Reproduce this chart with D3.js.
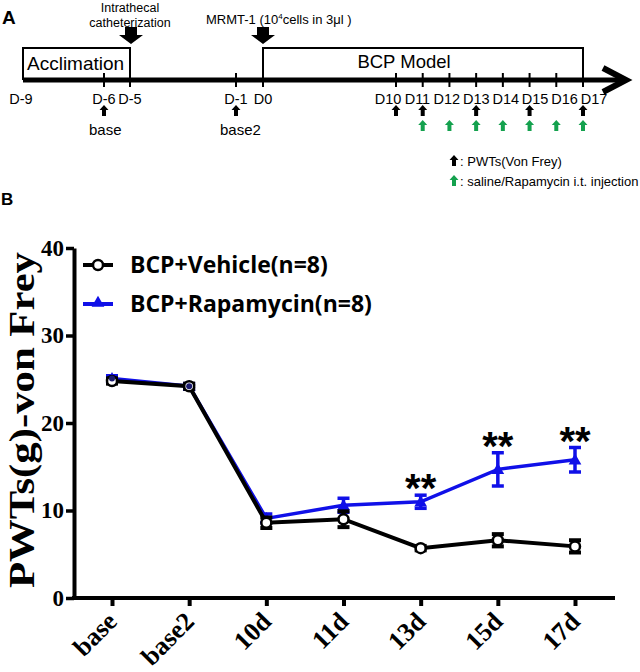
<!DOCTYPE html>
<html>
<head>
<meta charset="utf-8">
<script src="https://cdn.jsdelivr.net/npm/d3@7"></script>
<style>
  body { margin: 0; background: #fff; }
  svg { display: block; }
</style>
</head>
<body>
<div id="chart"></div>
<script>
// panel B data
const categories = ["base", "base2", "10d", "11d", "13d", "15d", "17d"];
const vehicleMean = [24.8, 24.2, 8.6, 9.0, 5.7, 6.6, 5.9];
const vehicleSem = [0.3, 0.3, 0.6, 0.9, 0.25, 0.7, 0.7];
const rapaMean = [25.1, 24.2, 9.1, 10.6, 11.0, 14.7, 15.8];
const rapaSem = [0.3, 0.3, 0.5, 0.8, 0.75, 1.9, 1.4];
const stars = ["", "", "", "", "**", "**", "**"];
const yTicks = [0, 10, 20, 30, 40];
const seriesNames = ["BCP+Vehicle(n=8)", "BCP+Rapamycin(n=8)"];

// panel A timeline
const timelineDays = [-6, -5, -1, 0, 10, 11, 12, 13, 14, 15, 16, 17];
const earlyLabels = [["D-9", -9], ["D-6", -6], ["D-5", -5], ["D-1", -1], ["D0", 0]];
const lateLabels = [10, 11, 12, 13, 14, 15, 16, 17];
const pwtDays = [-6, -1, 10, 11, 13, 15, 17];
const injectDays = [11, 12, 13, 14, 15, 16, 17];

const W = 640, H = 672;
const svg = d3.select("#chart").append("svg").attr("width", W).attr("height", H);
const sans = "Liberation Sans, Arial, sans-serif";
const serif = "Liberation Serif, Times New Roman, serif";
const green = "#14a14e";

// ---------- Panel A ----------
const A = svg.append("g");
// day -> x, piecewise since the timeline is not to scale
const tx = d3.scaleLinear().domain([-9, -6, -5, -1, 0, 10, 17]).range([20, 104, 130, 236, 263, 396, 583]);

A.append("text").attr("x", 2).attr("y", 24).text("A")
  .style("font-family", sans).style("font-weight", "bold").style("font-size", "19px");

// boxes
A.append("path").attr("d", `M23,80 V48 H${tx(-5)} V80`).attr("fill", "none").attr("stroke", "#000").attr("stroke-width", 2);
A.append("path").attr("d", `M${tx(0)},80 V48 H${tx(17)} V80`).attr("fill", "none").attr("stroke", "#000").attr("stroke-width", 2);
A.append("text").attr("x", 27).attr("y", 70).text("Acclimation")
  .style("font-family", sans).style("font-size", "19px");
A.append("text").attr("x", 404).attr("y", 68).attr("text-anchor", "middle").text("BCP Model")
  .style("font-family", sans).style("font-size", "18.5px");

// main axis line + arrowhead
A.append("line").attr("x1", 23).attr("x2", 624).attr("y1", 80).attr("y2", 80)
  .attr("stroke", "#000").attr("stroke-width", 5);
A.append("polyline").attr("points", "603,68 626,80 603,92")
  .attr("fill", "none").attr("stroke", "#000").attr("stroke-width", 6);

A.selectAll(".tk").data(timelineDays).enter().append("line")
  .attr("x1", d => tx(d)).attr("x2", d => tx(d)).attr("y1", 73).attr("y2", 87)
  .attr("stroke", "#000").attr("stroke-width", 2);

A.selectAll(".dl").data(earlyLabels).enter().append("text")
  .attr("x", d => tx(d[1]) + (d[1] === -9 ? 1 : 0)).attr("y", 104).attr("text-anchor", "middle")
  .text(d => d[0]).style("font-family", sans).style("font-size", "14.5px");

const lx = d3.scaleLinear().domain([10, 17]).range([388, 594]);
A.selectAll(".dl2").data(lateLabels).enter().append("text")
  .attr("x", d => lx(d)).attr("y", 104).attr("text-anchor", "middle")
  .text(d => "D" + d).style("font-family", sans).style("font-size", "14.5px");

// small block arrow pointing up, tip at (x, y)
function smallArrow(g, x, y, color) {
  g.append("path")
    .attr("d", `M${x},${y} L${x + 4.5},${y + 5} L${x + 2},${y + 5} L${x + 2},${y + 11} L${x - 2},${y + 11} L${x - 2},${y + 5} L${x - 4.5},${y + 5} Z`)
    .attr("fill", color);
}
// big arrow pointing down, tip at (x, y)
function bigArrow(g, x, y) {
  g.append("path")
    .attr("d", `M${x},${y} L${x + 12},${y - 9} L${x + 6},${y - 9} L${x + 6},${y - 17} L${x - 6},${y - 17} L${x - 6},${y - 9} L${x - 12},${y - 9} Z`)
    .attr("fill", "#000");
}

pwtDays.forEach(d => smallArrow(A, tx(d), 105, "#000"));
injectDays.forEach(d => smallArrow(A, tx(d), 120, green));

A.append("text").attr("x", 89).attr("y", 135).text("base").style("font-family", sans).style("font-size", "15px");
A.append("text").attr("x", 220).attr("y", 135).text("base2").style("font-family", sans).style("font-size", "15px");

bigArrow(A, 131, 44);
bigArrow(A, 263, 44);
A.append("text").attr("x", 130).attr("y", 12).attr("text-anchor", "middle").text("Intrathecal")
  .style("font-family", sans).style("font-size", "12.5px");
A.append("text").attr("x", 130).attr("y", 27).attr("text-anchor", "middle").text("catheterization")
  .style("font-family", sans).style("font-size", "12.5px");
const mr = A.append("text").attr("x", 206).attr("y", 24).style("font-family", sans).style("font-size", "13px");
mr.append("tspan").text("MRMT-1 (10");
mr.append("tspan").attr("dy", -5).style("font-size", "8px").text("4");
mr.append("tspan").attr("dy", 5).text("cells in 3μl )");

smallArrow(A, 454, 155, "#000");
A.append("text").attr("x", 460).attr("y", 166).text(": PWTs(Von Frey)").style("font-family", sans).style("font-size", "13px");
smallArrow(A, 454, 175, green);
A.append("text").attr("x", 460).attr("y", 186).text(": saline/Rapamycin i.t. injection").style("font-family", sans).style("font-size", "13px");

// ---------- Panel B ----------
const B = svg.append("g");
B.append("text").attr("x", 1).attr("y", 205).text("B")
  .style("font-family", sans).style("font-weight", "bold").style("font-size", "17px");

const x = d3.scalePoint().domain(categories).range([112, 575]);
const y = d3.scaleLinear().domain([0, 40]).range([598, 248]);
const axisX0 = 74, axisX1 = 615;

const yAxis = B.append("g").attr("transform", `translate(${axisX0},0)`)
  .call(d3.axisLeft(y).tickValues(yTicks).tickSize(8).tickSizeOuter(0).tickPadding(2));
yAxis.select(".domain").attr("stroke-width", 4);
yAxis.selectAll(".tick line").attr("stroke-width", 3.5);
yAxis.selectAll("text").style("font-family", serif).style("font-weight", "bold").style("font-size", "23px");

const xAxis = B.append("g").attr("transform", "translate(0,598)")
  .call(d3.axisBottom(x).tickSize(8).tickSizeOuter(0));
xAxis.select(".domain").remove();
xAxis.selectAll(".tick line").attr("stroke-width", 4);
xAxis.selectAll("text")
  .style("font-family", serif).style("font-weight", "bold").style("font-size", "26px")
  .attr("text-anchor", "end").attr("dy", null).attr("y", 0).attr("x", 0)
  .attr("transform", "translate(6,25) rotate(-45)");
B.append("line").attr("x1", axisX0 - 2).attr("x2", axisX1).attr("y1", 598).attr("y2", 598)
  .attr("stroke", "#000").attr("stroke-width", 4);

B.append("text").attr("transform", "translate(34,420) rotate(-90)")
  .attr("text-anchor", "middle").attr("textLength", 336).attr("lengthAdjust", "spacingAndGlyphs")
  .text("PWTs(g)-von Frey")
  .style("font-family", serif).style("font-weight", "bold").style("font-size", "35px");

function rows(mean, sem) {
  return categories.map((c, i) => ({ c: c, m: mean[i], e: sem[i], s: stars[i] }));
}
const veh = rows(vehicleMean, vehicleSem);
const rap = rows(rapaMean, rapaSem);
const line = d3.line().x(d => x(d.c)).y(d => y(d.m));

function errorBars(data, color, w) {
  const g = B.append("g").attr("stroke", color).attr("stroke-width", w);
  data.forEach(d => {
    const cx = x(d.c);
    g.append("line").attr("x1", cx).attr("x2", cx).attr("y1", y(d.m - d.e)).attr("y2", y(d.m + d.e));
    g.append("line").attr("x1", cx - 6).attr("x2", cx + 6).attr("y1", y(d.m - d.e)).attr("y2", y(d.m - d.e));
    g.append("line").attr("x1", cx - 6).attr("x2", cx + 6).attr("y1", y(d.m + d.e)).attr("y2", y(d.m + d.e));
  });
}

const tri = d3.symbol().type(d3.symbolTriangle).size(70);

// rapamycin (blue) under vehicle
errorBars(rap, "#1010e8", 3.5);
B.append("path").datum(rap).attr("d", line).attr("fill", "none").attr("stroke", "#1010e8").attr("stroke-width", 3.5);
B.selectAll(".tri").data(rap).enter().append("path")
  .attr("d", tri).attr("transform", d => `translate(${x(d.c)},${y(d.m) + 1})`).attr("fill", "#1010e8");

errorBars(veh, "#000", 4);
B.append("path").datum(veh).attr("d", line).attr("fill", "none").attr("stroke", "#000").attr("stroke-width", 4);
B.selectAll(".circ").data(veh).enter().append("circle")
  .attr("cx", d => x(d.c)).attr("cy", d => y(d.m)).attr("r", 5)
  .attr("fill", "#fff").attr("stroke", "#000").attr("stroke-width", 2.5);
// at the baseline points the blue triangle shows through
B.selectAll(".tri2").data(rap.slice(0, 2)).enter().append("circle")
  .attr("cx", d => x(d.c)).attr("cy", d => y(d.m)).attr("r", 3)
  .attr("fill", "#1a1a6e");

B.selectAll(".star").data(rap.filter(d => d.s)).enter().append("text")
  .attr("x", d => x(d.c)).attr("y", d => y(d.m + d.e) + 7).attr("text-anchor", "middle")
  .text(d => d.s).style("font-family", sans).style("font-weight", "bold").style("font-size", "40px");

// legend
const leg = B.append("g");
leg.append("line").attr("x1", 83).attr("x2", 113).attr("y1", 265).attr("y2", 265).attr("stroke", "#000").attr("stroke-width", 4);
leg.append("circle").attr("cx", 98).attr("cy", 265).attr("r", 5).attr("fill", "#fff").attr("stroke", "#000").attr("stroke-width", 2.5);
leg.append("line").attr("x1", 83).attr("x2", 113).attr("y1", 304).attr("y2", 304).attr("stroke", "#1010e8").attr("stroke-width", 4);
leg.append("path").attr("d", tri).attr("transform", "translate(98,303)").attr("fill", "#1010e8");
leg.selectAll("text").data(seriesNames).enter().append("text")
  .attr("x", 130).attr("y", (d, i) => 273 + i * 39).text(d => d)
  .style("font-family", "Open Sans, sans-serif").style("font-weight", "bold").style("font-size", "23px");
</script>
</body>
</html>
